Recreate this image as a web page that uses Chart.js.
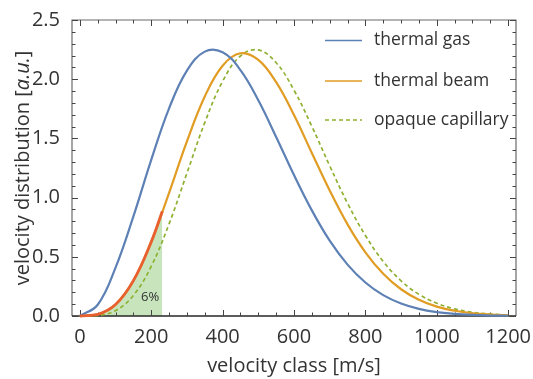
<!DOCTYPE html>
<html><head><meta charset="utf-8">
<script src="https://cdn.jsdelivr.net/npm/chart.js@4.4.1/dist/chart.umd.min.js"></script>
<style>html,body{margin:0;padding:0;background:#fff;} #wrap{width:533px;height:379px;}</style>
</head><body><div id="wrap"><canvas id="c" width="533" height="379"></canvas></div>
<script>
const velocity = [0,50,100,150,200,250,300,350,400,450,500,550,600,650,700,750,800,850,900,950,1000,1050,1100,1150,1200];
const thermalGas = [0,0.095,0.409,0.841,1.319,1.754,2.072,2.233,2.227,2.077,1.822,1.512,1.190,0.892,0.636,0.434,0.283,0.176,0.105,0.060,0.033,0.018,0.009,0.004,0.002];
const thermalBeam = [0,0.013,0.097,0.299,0.626,1.040,1.475,1.854,2.114,2.219,2.163,1.975,1.697,1.377,1.060,0.774,0.538,0.357,0.226,0.137,0.079,0.044,0.023,0.012,0.006];
const opaqueCapillary = [0,0.004,0.046,0.174,0.420,0.778,1.206,1.633,1.982,2.196,2.247,2.139,1.907,1.602,1.269,0.952,0.680,0.460,0.297,0.183,0.108,0.060,0.032,0.017,0.008];
const slowVelocity = [0,50,100,150,200,231];
const slowBeam = [0,0.013,0.097,0.299,0.626,0.885];
const seriesNames = ['thermal gas','thermal beam','opaque capillary'];
const xTickValues = [0,200,400,600,800,1000,1200];
const yTickValues = [0,0.5,1.0,1.5,2.0,2.5];
const slowFractionLabel = '6%';
const slowLabelAt = {x:197, y:0.16};

const FONT = '"Open Sans", "DejaVu Sans", sans-serif';
const colors = {gas:'#5e81b5', beam:'#e19c24', cap:'#8fb131', slow:'#e9602f', fill:'#c7e4bc'};

const pts = (xs, ys) => xs.map((x,i)=>({x, y: ys[i]}));

const decor = {
  id:'decor',
  beforeDatasetsDraw(chart){
    const {ctx, chartArea:a, scales:{x, y}} = chart;
    ctx.save();
    ctx.strokeStyle = '#6b6b6b'; ctx.lineWidth = 1.2;
    ctx.beginPath();
    ctx.moveTo(a.left, a.bottom); ctx.lineTo(a.left, a.top); ctx.lineTo(a.right, a.top); ctx.lineTo(a.right, a.bottom);
    ctx.stroke();
    ctx.strokeStyle = '#262626'; ctx.lineWidth = 1.6;
    ctx.beginPath(); ctx.moveTo(a.left, a.bottom); ctx.lineTo(a.right, a.bottom); ctx.stroke();
    ctx.strokeStyle = '#444'; ctx.lineWidth = 1;
    ctx.beginPath();
    for (let v = 0; v <= 1200; v += 50) {
      const px = Math.round(x.getPixelForValue(v)) + 0.5;
      const len = v % 200 === 0 ? 6 : 3.5;
      ctx.moveTo(px, a.bottom); ctx.lineTo(px, a.bottom - len);
      ctx.moveTo(px, a.top); ctx.lineTo(px, a.top + len);
    }
    for (let k = 0; k <= 25; k++) {
      const v = k / 10;
      const py = Math.round(y.getPixelForValue(v)) + 0.5;
      const len = k % 5 === 0 ? 6 : 3.5;
      ctx.moveTo(a.left, py); ctx.lineTo(a.left + len, py);
      ctx.moveTo(a.right, py); ctx.lineTo(a.right - len, py);
    }
    ctx.stroke();
    ctx.restore();
  },
  afterDraw(chart){
    const {ctx, chartArea:a, scales:{x, y}} = chart;
    ctx.save();
    ctx.fillStyle = '#333'; ctx.font = '13px ' + FONT;
    ctx.textAlign = 'center'; ctx.textBaseline = 'middle';
    ctx.fillText(slowFractionLabel, x.getPixelForValue(slowLabelAt.x), y.getPixelForValue(slowLabelAt.y));
    const items = [
      {c:colors.gas, dash:[]},
      {c:colors.beam, dash:[]},
      {c:colors.cap, dash:[4,3]}
    ];
    const rowsY = [40.5, 81, 120];
    ctx.font = '17.5px ' + FONT; ctx.textAlign = 'left';
    items.forEach((it,i)=>{
      ctx.strokeStyle = it.c; ctx.lineWidth = it.dash.length ? 1.5 : 1.6;
      ctx.setLineDash(it.dash);
      ctx.beginPath(); ctx.moveTo(325, rowsY[i]); ctx.lineTo(362, rowsY[i]); ctx.stroke();
      ctx.setLineDash([]);
      ctx.fillStyle = '#333';
      ctx.fillText(seriesNames[i], 374, rowsY[i]);
    });
    const parts = [['velocity distribution [', 'normal'], ['a.u.', 'italic'], [']', 'normal']];
    let total = 0;
    parts.forEach(p=>{ ctx.font = p[1] + ' 20px ' + FONT; p.w = ctx.measureText(p[0]).width; total += p.w; });
    ctx.translate(23, (a.top + a.bottom) / 2);
    ctx.rotate(-Math.PI/2);
    let cx = -total/2;
    ctx.textBaseline = 'middle';
    parts.forEach(p=>{ ctx.font = p[1] + ' 20px ' + FONT; ctx.fillText(p[0], cx, 0); cx += p.w; });
    ctx.restore();
  }
};

const common = {pointRadius:0, tension:0.4, clip:false, fill:false};
new Chart(document.getElementById('c'), {
  type:'line',
  data:{datasets:[
    {...common, label:'slow', data:pts(slowVelocity, slowBeam), borderColor:colors.slow, borderWidth:2.8, fill:'origin', backgroundColor:colors.fill},
    {...common, label:seriesNames[0], data:pts(velocity, thermalGas), borderColor:colors.gas, borderWidth:2.2},
    {...common, label:seriesNames[1], data:pts(velocity, thermalBeam), borderColor:colors.beam, borderWidth:2.2},
    {...common, label:seriesNames[2], data:pts(velocity, opaqueCapillary), borderColor:colors.cap, borderWidth:1.7, borderDash:[4,3]}
  ]},
  options:{
    responsive:false, animation:false, devicePixelRatio:1,
    layout:{padding:{top:20, right:17, left:0, bottom:0}},
    plugins:{legend:{display:false}, tooltip:{enabled:false}, filler:{drawTime:'beforeDatasetsDraw'}},
    scales:{
      x:{type:'linear', min:-22, max:1222,
        afterBuildTicks:s=>{ s.ticks = xTickValues.map(v=>({value:v})); },
        afterFit:s=>{ s.height = 63; },
        grid:{display:false}, border:{display:false},
        ticks:{font:{family:FONT, size:20}, color:'#333', padding:1, maxRotation:0, callback:v=>String(v)},
        title:{display:true, text:'velocity class [m/s]', font:{family:FONT, size:20}, color:'#333', padding:{top:0, bottom:1}}
      },
      y:{type:'linear', min:0, max:2.5,
        afterBuildTicks:s=>{ s.ticks = yTickValues.map(v=>({value:v})); },
        afterFit:s=>{ s.width = 72; },
        grid:{display:false}, border:{display:false},
        ticks:{font:{family:FONT, size:20}, color:'#333', padding:4, callback:v=>Number(v).toFixed(1)}
      }
    }
  },
  plugins:[decor]
});
</script></body></html>
